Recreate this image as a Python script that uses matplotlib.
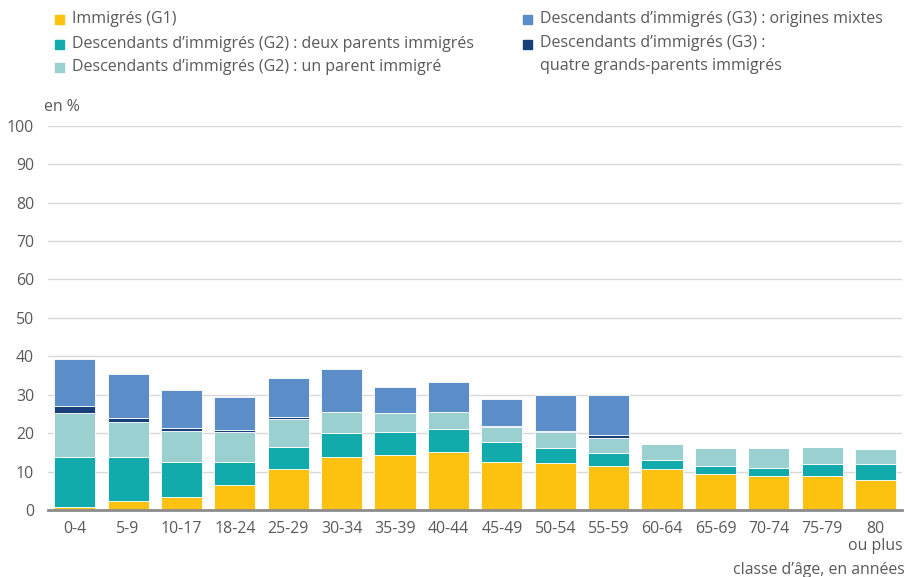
import matplotlib

matplotlib.use("Agg")
import matplotlib.pyplot as plt
import numpy as np
from matplotlib.patches import Rectangle

plt.rcParams["font.family"] = ["Open Sans", "DejaVu Sans"]

age_classes = ["0-4", "5-9", "10-17", "18-24", "25-29", "30-34", "35-39", "40-44",
               "45-49", "50-54", "55-59", "60-64", "65-69", "70-74", "75-79", "80"]

immigres_g1 = [0.7, 2.4, 3.5, 6.4, 10.6, 13.8, 14.4, 15.1, 12.6, 12.2, 11.4, 10.6, 9.4, 8.9, 8.9, 7.9]
g2_deux_parents = [13.2, 11.5, 9.1, 6.2, 5.9, 6.2, 6.0, 5.9, 5.2, 4.0, 3.4, 2.4, 2.0, 2.1, 3.0, 4.1]
g2_un_parent = [11.4, 9.0, 7.9, 7.8, 7.2, 5.5, 4.8, 4.5, 3.8, 4.0, 3.9, 4.1, 4.7, 5.1, 4.5, 3.8]
g3_quatre_gp = [1.7, 1.0, 0.8, 0.5, 0.5, 0.0, 0.0, 0.0, 0.3, 0.4, 0.9, 0, 0, 0, 0, 0]
g3_mixtes = [12.3, 11.4, 10.0, 8.4, 10.2, 11.2, 6.8, 7.9, 7.1, 9.3, 10.3, 0, 0, 0, 0, 0]

series = [
    ("Immigrés (G1)", immigres_g1, "#FDC110"),
    ("Descendants d’immigrés (G2) : deux parents immigrés", g2_deux_parents, "#10ABAA"),
    ("Descendants d’immigrés (G2) : un parent immigré", g2_un_parent, "#9AD0D0"),
    ("Descendants d’immigrés (G3) :\nquatre grands-parents immigrés", g3_quatre_gp, "#17407A"),
    ("Descendants d’immigrés (G3) : origines mixtes", g3_mixtes, "#5B8DC8"),
]

TEXT = "#595959"
FS = 11.4

fig = plt.figure(figsize=(9.05, 5.77), dpi=100)
ax = fig.add_axes([0.053, 0.116, 0.944, 0.666])

x = np.arange(len(age_classes))
bottom = np.zeros(len(x))
for label, values, color in series:
    vals = np.array(values, dtype=float)
    ax.bar(x, vals, bottom=bottom, width=0.77, color=color,
           edgecolor="white", linewidth=0.6, zorder=3)
    bottom += vals

ax.set_xlim(-0.5, len(x) - 0.5)
ax.set_ylim(0, 100)
ax.set_yticks(np.arange(0, 101, 10))
ax.set_xticks(x)
ax.set_xticklabels(age_classes)
ax.tick_params(axis="both", length=0, labelsize=FS, colors=TEXT)
ax.tick_params(axis="y", pad=10)
ax.tick_params(axis="x", pad=8)
ax.grid(axis="y", color="#d9d9d9", linewidth=1, zorder=0)
for side in ["top", "right", "left"]:
    ax.spines[side].set_visible(False)
ax.spines["bottom"].set_color("#8c8c8c")
ax.spines["bottom"].set_linewidth(2)
ax.spines["bottom"].set_zorder(4)

fig.text(44 / 905, 1 - 107 / 577, "en %", fontsize=FS, color=TEXT, va="center", ha="left")
fig.text(903 / 905, 1 - 546 / 577, "ou plus", fontsize=FS, color=TEXT, va="center", ha="right")
fig.text(905 / 905, 1 - 570 / 577, "classe d’âge, en années", fontsize=FS, color=TEXT,
         va="center", ha="right")

# legend, drawn by hand to match the two-column layout
legend_pos = [
    (55, 19), (55, 44), (55, 67),   # column 1
    (523, 44), (523, 19),           # column 2
]
for (label, values, color), (lx, ly) in zip(series, legend_pos):
    sq = 9
    fig.patches.append(Rectangle((lx / 905, 1 - (ly + sq / 2) / 577), sq / 905, sq / 577,
                                 transform=fig.transFigure, color=color))
    multi = "\n" in label
    ty = ly - 9 if multi else ly
    fig.text((lx + 17) / 905, 1 - ty / 577, label, fontsize=11.5, color=TEXT,
             va="top" if multi else "center", ha="left", linespacing=1.6)

fig.savefig("out.png", dpi=100)
